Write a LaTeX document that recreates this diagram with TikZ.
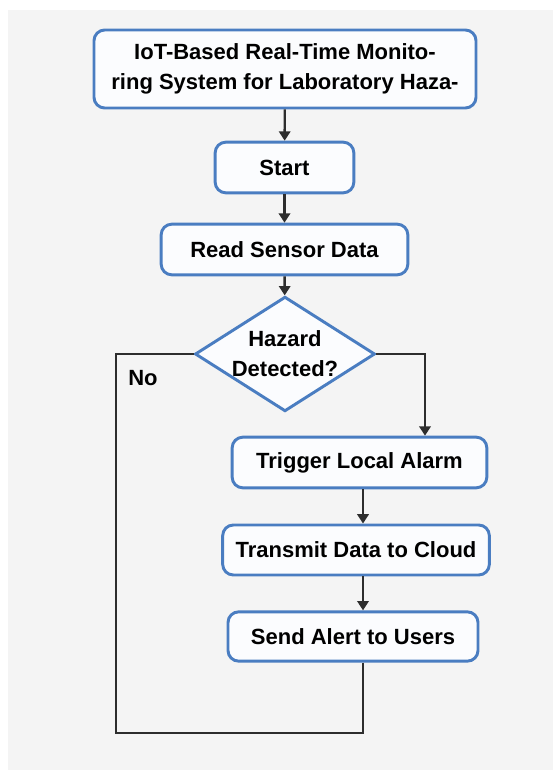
\documentclass[tikz,border=0pt]{standalone}
\usepackage{fontspec}
\setmainfont{Liberation Sans}
\usetikzlibrary{shapes.geometric,arrows.meta,positioning}

\definecolor{boxblue}{RGB}{74,125,193}
\definecolor{boxfill}{RGB}{251,252,254}
\definecolor{pagegrey}{RGB}{244,244,244}
\definecolor{linegrey}{RGB}{45,45,45}

\tikzset{every picture/.style={line width=0.75pt}}
\tikzset{
  stepbox/.style={draw=boxblue, fill=boxfill, line width=2.2pt, rounded corners=8pt,
    font=\bfseries\fontsize{16.5}{22}\selectfont, align=center, inner sep=0pt},
  decision/.style={diamond, draw=boxblue, fill=boxfill, line width=2.2pt, shape aspect=1.57,
    font=\bfseries\fontsize{16.5}{22.5}\selectfont, align=center, inner sep=0pt,
    minimum width=135pt, minimum height=86pt},
  flow/.style={draw=linegrey, line width=1.8pt, -{Triangle[length=7pt,width=8.5pt]}},
  loopline/.style={draw=linegrey, line width=1.8pt}
}

\begin{document}
\begin{tikzpicture}[x=0.75pt,y=0.75pt,yscale=-1,xscale=1]
        \useasboundingbox (0,0) rectangle (553,770);

        %Shape: Background
        \fill [pagegrey] (8,10) rectangle (553,770);

        %Shape: Title box
        \node [stepbox, minimum width=286.5pt, minimum height=58.5pt] (title) at (285,69) {IoT-Based Real-Time Monito-\\ring System for Laboratory Haza-};
        %Shape: Start box
        \node [stepbox, minimum width=104pt, minimum height=38pt] (start) at (284.5,167.5) {Start};
        %Shape: Read box
        \node [stepbox, minimum width=185pt, minimum height=38pt] (read) at (284.5,249.5) {Read Sensor Data};
        %Shape: Diamond
        \node [decision] (hazard) at (285,354) {Hazard\\Detected?};
        %Shape: Trigger box
        \node [stepbox, minimum width=191pt, minimum height=38pt] (alarm) at (359.5,462.5) {Trigger Local Alarm};
        %Shape: Transmit box
        \node [stepbox, minimum width=200pt, minimum height=37.5pt] (cloud) at (356,550) {Transmit Data to Cloud};
        %Shape: Send box
        \node [stepbox, minimum width=187.5pt, minimum height=37pt] (alert) at (353,636.5) {Send Alert to Users};

        %Text: No
        \node [font=\bfseries\fontsize{16.5}{20}\selectfont, inner sep=0pt] (nolabel) at (143,378) {No};

        %Coordinates for the side lines
        \coordinate (yesturn) at (425,354);
        \coordinate (col) at (363,500);
        \coordinate (loopcorner) at (116,733);

        %Straight Lines: main column
        \draw [flow] (title) -- (start);
        \draw [flow] (start) -- (read);
        \draw [flow] (read) -- (hazard);
        %Straight Lines: yes branch
        \draw [flow] (hazard.east) -- (yesturn) -- (yesturn |- alarm.north);
        \draw [flow] (alarm.south -| col) -- (cloud.north -| col);
        \draw [flow] (cloud.south -| col) -- (alert.north -| col);
        %Straight Lines: no loop
        \draw [loopline] (alert.south -| col) |- (loopcorner) |- (hazard.west);

    \end{tikzpicture}
\end{document}
